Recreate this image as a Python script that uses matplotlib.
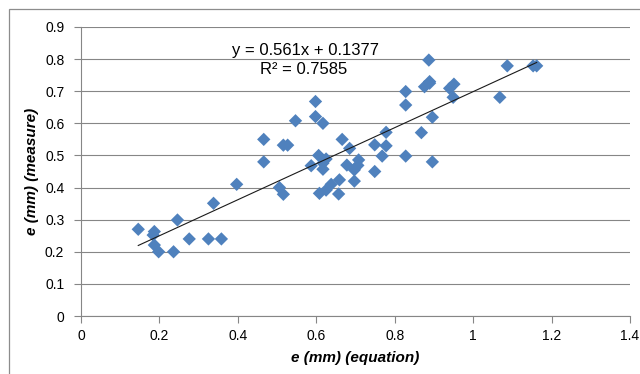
import numpy as np
import matplotlib
matplotlib.use("Agg")
import matplotlib.pyplot as plt
from matplotlib.patches import Rectangle

# values
e_equation = [0.146, 0.187, 0.184, 0.187, 0.198, 0.236, 0.246, 0.276, 0.325, 0.338,
              0.358, 0.397, 0.466, 0.466, 0.506, 0.516, 0.516, 0.527, 0.547, 0.587,
              0.598, 0.598, 0.606, 0.608, 0.617, 0.617, 0.617, 0.625, 0.625, 0.638,
              0.657, 0.659, 0.666, 0.678, 0.685, 0.697, 0.697, 0.706, 0.708, 0.749,
              0.749, 0.768, 0.778, 0.778, 0.828, 0.828, 0.828, 0.868, 0.876, 0.887,
              0.889, 0.889, 0.896, 0.896, 0.940, 0.951, 0.949, 1.068, 1.087, 1.153,
              1.162]
e_measure = [0.270, 0.263, 0.252, 0.221, 0.200, 0.200, 0.299, 0.240, 0.240, 0.351,
             0.240, 0.410, 0.550, 0.480, 0.400, 0.379, 0.532, 0.532, 0.608, 0.468,
             0.668, 0.621, 0.500, 0.382, 0.600, 0.476, 0.457, 0.489, 0.392, 0.410,
             0.380, 0.424, 0.550, 0.470, 0.522, 0.455, 0.420, 0.469, 0.486, 0.533,
             0.450, 0.498, 0.572, 0.530, 0.699, 0.657, 0.498, 0.571, 0.714, 0.797,
             0.730, 0.725, 0.619, 0.480, 0.709, 0.722, 0.681, 0.681, 0.779, 0.779,
             0.779]

slope = 0.561
intercept = 0.1377
r2 = 0.7585

x_ticks = [0, 0.2, 0.4, 0.6, 0.8, 1, 1.2, 1.4]
x_ticklabels = ["0", "0.2", "0.4", "0.6", "0.8", "1", "1.2", "1.4"]
y_ticks = [0, 0.1, 0.2, 0.3, 0.4, 0.5, 0.6, 0.7, 0.8, 0.9]
y_ticklabels = ["0", "0.1", "0.2", "0.3", "0.4", "0.5", "0.6", "0.7", "0.8", "0.9"]

plt.rcParams["font.family"] = ["Liberation Sans", "DejaVu Sans"]
grey = "#868686"

fig = plt.figure(figsize=(6.4, 3.74), dpi=100)
ax = fig.add_axes([81 / 640, 58 / 374, 549 / 640, 289 / 374])

# chart area border (runs off the right and bottom edges)
fig.patches.append(Rectangle((9 / 640, -0.1), 1.2, (374 - 9) / 374 + 0.1,
                             transform=fig.transFigure, fill=False,
                             edgecolor="#8c8c8c", linewidth=0.9))

ax.scatter(e_equation, e_measure, marker="D", s=46, color="#4F81BD",
           edgecolors="none", zorder=3)

xs = np.array([min(e_equation), max(e_equation)])
ax.plot(xs, slope * xs + intercept, color="#1a1a1a", linewidth=0.8, zorder=4)

ax.text(0.572, 0.826, f"y = {slope}x + {intercept}", ha="center", va="center",
        fontsize=12)
ax.text(0.568, 0.768, f"R² = {r2}", ha="center", va="center", fontsize=12)

ax.set_xlim(0, 1.4)
ax.set_ylim(0, 0.9)
ax.set_xticks(x_ticks)
ax.set_xticklabels(x_ticklabels)
ax.set_yticks(y_ticks)
ax.set_yticklabels(y_ticklabels)
ax.tick_params(axis="both", labelsize=10, colors=grey, labelcolor="black",
               length=5, width=0.8, direction="out")
ax.tick_params(axis="x", pad=4)
ax.tick_params(axis="y", pad=7)

ax.grid(axis="y", color=grey, linewidth=0.8)
ax.set_axisbelow(True)
for s in ["top", "right"]:
    ax.spines[s].set_visible(False)
for s in ["left", "bottom"]:
    ax.spines[s].set_color(grey)
    ax.spines[s].set_linewidth(0.8)

ax.set_xlabel("e (mm) (equation)", fontsize=11, fontweight="bold",
              fontstyle="italic", labelpad=6)
ax.set_ylabel("e (mm) (measure)", fontsize=11, fontweight="bold",
              fontstyle="italic", labelpad=4)

fig.savefig("out.png", dpi=100)
